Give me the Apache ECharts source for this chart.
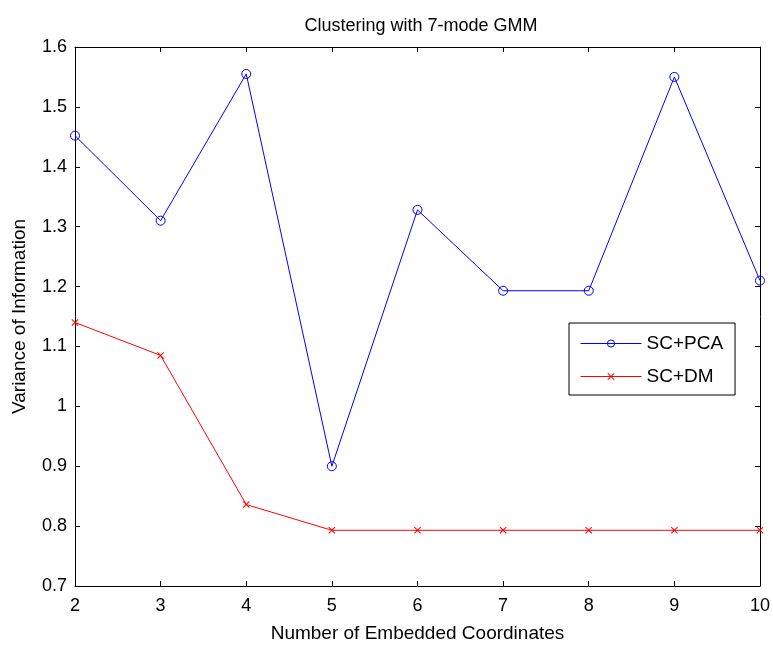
<!DOCTYPE html>
<html>
<head>
<meta charset="utf-8">
<script src="https://cdn.jsdelivr.net/npm/echarts@6/dist/echarts.min.js"></script>
<style>
  html, body { margin: 0; padding: 0; background: #fff; }
  #chart { width: 773px; height: 648px; }
</style>
</head>
<body>
<div id="chart"></div>
<script>
// Number of embedded coordinates (x values)
const coords = [2, 3, 4, 5, 6, 7, 8, 9, 10];
// Variance of information for each method
const scPca = [1.452, 1.310, 1.555, 0.900, 1.328, 1.193, 1.193, 1.550, 1.210];
const scDm  = [1.140, 1.085, 0.836, 0.793, 0.793, 0.793, 0.793, 0.793, 0.793];
// Axis tick values
const xTicks = [2, 3, 4, 5, 6, 7, 8, 9, 10];
const yTicks = [0.7, 0.8, 0.9, 1, 1.1, 1.2, 1.3, 1.4, 1.5, 1.6];

const FONT = 'Liberation Sans';
const crossPath = 'path://M0,1L1,0L5,4L9,0L10,1L6,5L10,9L9,10L5,6L1,10L0,9L4,5Z';

const chart = echarts.init(document.getElementById('chart'), null, { renderer: 'canvas' });

const axisLineStyle = { color: '#000', width: 1 };
const baseX = {
  type: 'value', min: 2, max: 10, interval: 1,
  axisLine: { show: true, onZero: false, lineStyle: axisLineStyle },
  axisTick: { show: true, inside: true, length: 5, lineStyle: axisLineStyle },
  splitLine: { show: false }
};
const baseY = {
  type: 'value', min: 0.7, max: 1.6, interval: 0.1,
  axisLine: { show: true, onZero: false, lineStyle: axisLineStyle },
  axisTick: { show: true, inside: true, length: 5, lineStyle: axisLineStyle },
  splitLine: { show: false }
};

chart.setOption({
  backgroundColor: '#fff',
  animation: false,
  textStyle: { fontFamily: FONT },
  title: {
    text: 'Clustering with 7-mode GMM',
    left: 416, top: 12, textAlign: 'center',
    textStyle: { fontFamily: FONT, fontSize: 18, fontWeight: 'normal', color: '#000' }
  },
  grid: { left: 75, right: 11, top: 47, bottom: 61, containLabel: false },
  legend: {
    left: 569, top: 323,
    orient: 'vertical',
    backgroundColor: '#fff',
    borderColor: '#000', borderWidth: 1, borderRadius: 0,
    padding: [11, 12, 9, 11],
    itemWidth: 61, itemHeight: 9, itemGap: 14,
    textStyle: { fontFamily: FONT, fontSize: 19, color: '#000' },
    data: [
      {
        name: 'SC+PCA',
        itemStyle: { color: 'rgba(0,0,0,0)', borderColor: '#0000ff', borderWidth: 1 },
        lineStyle: { color: '#0000ff', width: 1 }
      },
      {
        name: 'SC+DM',
        itemStyle: { color: '#ff0000' },
        lineStyle: { color: '#ff0000', width: 1 }
      }
    ]
  },
  xAxis: [
    Object.assign({}, baseX, {
      position: 'bottom',
      name: 'Number of Embedded Coordinates',
      nameLocation: 'middle', nameGap: 38,
      nameTextStyle: { fontFamily: FONT, fontSize: 19, color: '#000' },
      axisLabel: {
        fontFamily: FONT, fontSize: 18, color: '#000', margin: 11,
        customValues: xTicks, formatter: v => String(v)
      }
    }),
    Object.assign({}, baseX, { position: 'top', axisLabel: { show: false } })
  ],
  yAxis: [
    Object.assign({}, baseY, {
      position: 'left',
      name: 'Variance of Information',
      nameLocation: 'middle', nameGap: 46, nameRotate: 90,
      nameTextStyle: { fontFamily: FONT, fontSize: 19, color: '#000' },
      axisLabel: {
        fontFamily: FONT, fontSize: 18, color: '#000', margin: 8,
        customValues: yTicks,
        formatter: v => {
          const r = Math.round(v * 10) / 10;
          return Number.isInteger(r) ? String(r) : r.toFixed(1);
        }
      }
    }),
    Object.assign({}, baseY, { position: 'right', axisLabel: { show: false } })
  ],
  series: [
    {
      name: 'SC+PCA', type: 'line',
      data: coords.map((x, i) => [x, scPca[i]]),
      symbol: 'circle', symbolSize: 9, showAllSymbol: true,
      lineStyle: { color: '#0000ff', width: 1 },
      itemStyle: { color: 'rgba(0,0,0,0)', borderColor: '#0000ff', borderWidth: 1 },
      emphasis: { disabled: true }
    },
    {
      name: 'SC+DM', type: 'line',
      data: coords.map((x, i) => [x, scDm[i]]),
      symbol: crossPath, symbolSize: 7, showAllSymbol: true,
      lineStyle: { color: '#ff0000', width: 1 },
      itemStyle: { color: '#ff0000' },
      emphasis: { disabled: true }
    }
  ]
});
</script>
</body>
</html>
